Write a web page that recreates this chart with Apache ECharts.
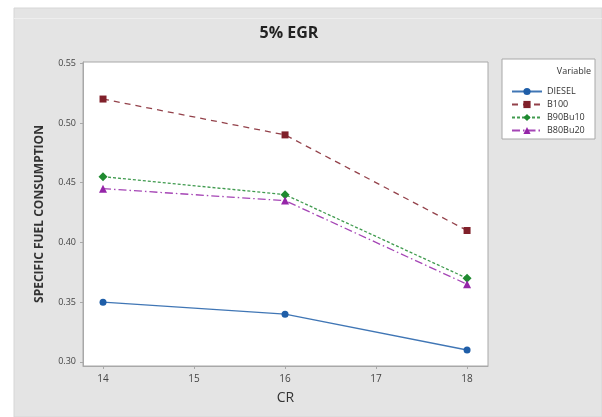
<!DOCTYPE html>
<html>
<head>
<meta charset="utf-8">
<script src="https://cdn.jsdelivr.net/npm/echarts@6/dist/echarts.min.js"></script>
<style>
  html, body { margin: 0; padding: 0; background: #ffffff; }
  #chart { width: 602px; height: 417px; }
</style>
</head>
<body>
<div id="chart"></div>
<script>
// Compression ratio (CR) levels
const crValues = [14, 16, 18];
// Specific fuel consumption per fuel blend
const diesel = [0.35, 0.34, 0.31];
const b100 = [0.52, 0.49, 0.41];
const b90bu10 = [0.455, 0.44, 0.37];
const b80bu20 = [0.445, 0.435, 0.365];
// Axis tick labels
const xTicks = [14, 15, 16, 17, 18];
const yTicks = [0.30, 0.35, 0.40, 0.45, 0.50, 0.55];

const pairs = (ys) => crValues.map((x, i) => [x, ys[i]]);

const fontFam = '"Open Sans", "Noto Sans", sans-serif';

function lineSeries(name, data, color, symbol, size, dash) {
  return {
    name: name,
    type: 'line',
    data: pairs(data),
    symbol: symbol,
    symbolSize: size,
    showSymbol: true,
    lineStyle: { color: color, width: 1.3, type: dash, opacity: 0.85 },
    itemStyle: { color: color },
    emphasis: { disabled: true },
    z: 3
  };
}

const chart = echarts.init(document.getElementById('chart'), null, { renderer: 'canvas' });

chart.setOption({
  animation: false,
  backgroundColor: '#ffffff',
  graphic: [
    {
      type: 'rect', z: -10, silent: true,
      shape: { x: 14, y: 8, width: 588, height: 409 },
      style: { fill: '#e4e4e4', stroke: '#d6d6d6', lineWidth: 1 }
    },
    {
      type: 'line', z: -9, silent: true,
      shape: { x1: 14, y1: 18.5, x2: 602, y2: 18.5 },
      style: { stroke: '#eeeeee', lineWidth: 1 }
    },
    {
      type: 'rect', z: 10, silent: true,
      shape: { x: 502, y: 59, width: 93, height: 80 },
      style: { fill: '#ffffff', stroke: '#a8a8a8', lineWidth: 1 }
    },
    {
      type: 'text', z: 11, silent: true,
      x: 591, y: 67,
      style: {
        text: 'Variable', align: 'right', verticalAlign: 'top',
        font: '9px ' + fontFam, fill: '#333333'
      }
    }
  ],
  title: {
    text: '5% EGR',
    left: 284, top: 20,
    textAlign: 'center',
    textStyle: { fontFamily: fontFam, fontSize: 16, fontWeight: 'bold', color: '#222222' }
  },
  legend: {
    orient: 'vertical',
    left: 506, top: 82,
    itemWidth: 30, itemHeight: 9, itemGap: 4,
    z: 12,
    textStyle: { fontFamily: fontFam, fontSize: 9, color: '#333333' },
    data: ['DIESEL', 'B100', 'B90Bu10', 'B80Bu20']
  },
  grid: {
    left: 83, top: 62, width: 405, height: 304,
    show: true, backgroundColor: '#ffffff', borderColor: '#a8a8a8', borderWidth: 1
  },
  xAxis: {
    type: 'value',
    min: 13.78, max: 18.23,
    name: 'CR',
    nameLocation: 'middle',
    nameGap: 25,
    nameTextStyle: { fontFamily: fontFam, fontSize: 14, color: '#333333' },
    axisLine: { show: true, onZero: false, lineStyle: { color: '#a8a8a8' } },
    axisTick: { show: true, length: 3, customValues: xTicks, lineStyle: { color: '#a8a8a8' } },
    axisLabel: {
      customValues: xTicks, margin: 8,
      fontFamily: fontFam, fontSize: 10, color: '#444444'
    },
    splitLine: { show: false }
  },
  yAxis: {
    type: 'value',
    min: 0.2966, max: 0.551,
    name: 'SPECIFIC FUEL CONSUMPTION',
    nameLocation: 'middle',
    nameRotate: 90,
    nameGap: 37,
    nameTextStyle: { fontFamily: fontFam, fontSize: 12, fontWeight: 'bold', color: '#333333' },
    axisLine: { show: true, onZero: false, lineStyle: { color: '#a8a8a8' } },
    axisTick: { show: true, length: 3, customValues: yTicks, lineStyle: { color: '#a8a8a8' } },
    axisLabel: {
      customValues: yTicks, margin: 7,
      formatter: (v) => v.toFixed(2),
      fontFamily: fontFam, fontSize: 9, color: '#444444'
    },
    splitLine: { show: false }
  },
  series: [
    lineSeries('DIESEL', diesel, '#1f5ea8', 'circle', 7, 'solid'),
    lineSeries('B100', b100, '#80202a', 'rect', 7, [6, 5]),
    lineSeries('B90Bu10', b90bu10, '#1f8a30', 'diamond', 9, [3, 2]),
    lineSeries('B80Bu20', b80bu20, '#9525a8', 'triangle', 8, [8, 3, 1.5, 3])
  ]
});
</script>
</body>
</html>
